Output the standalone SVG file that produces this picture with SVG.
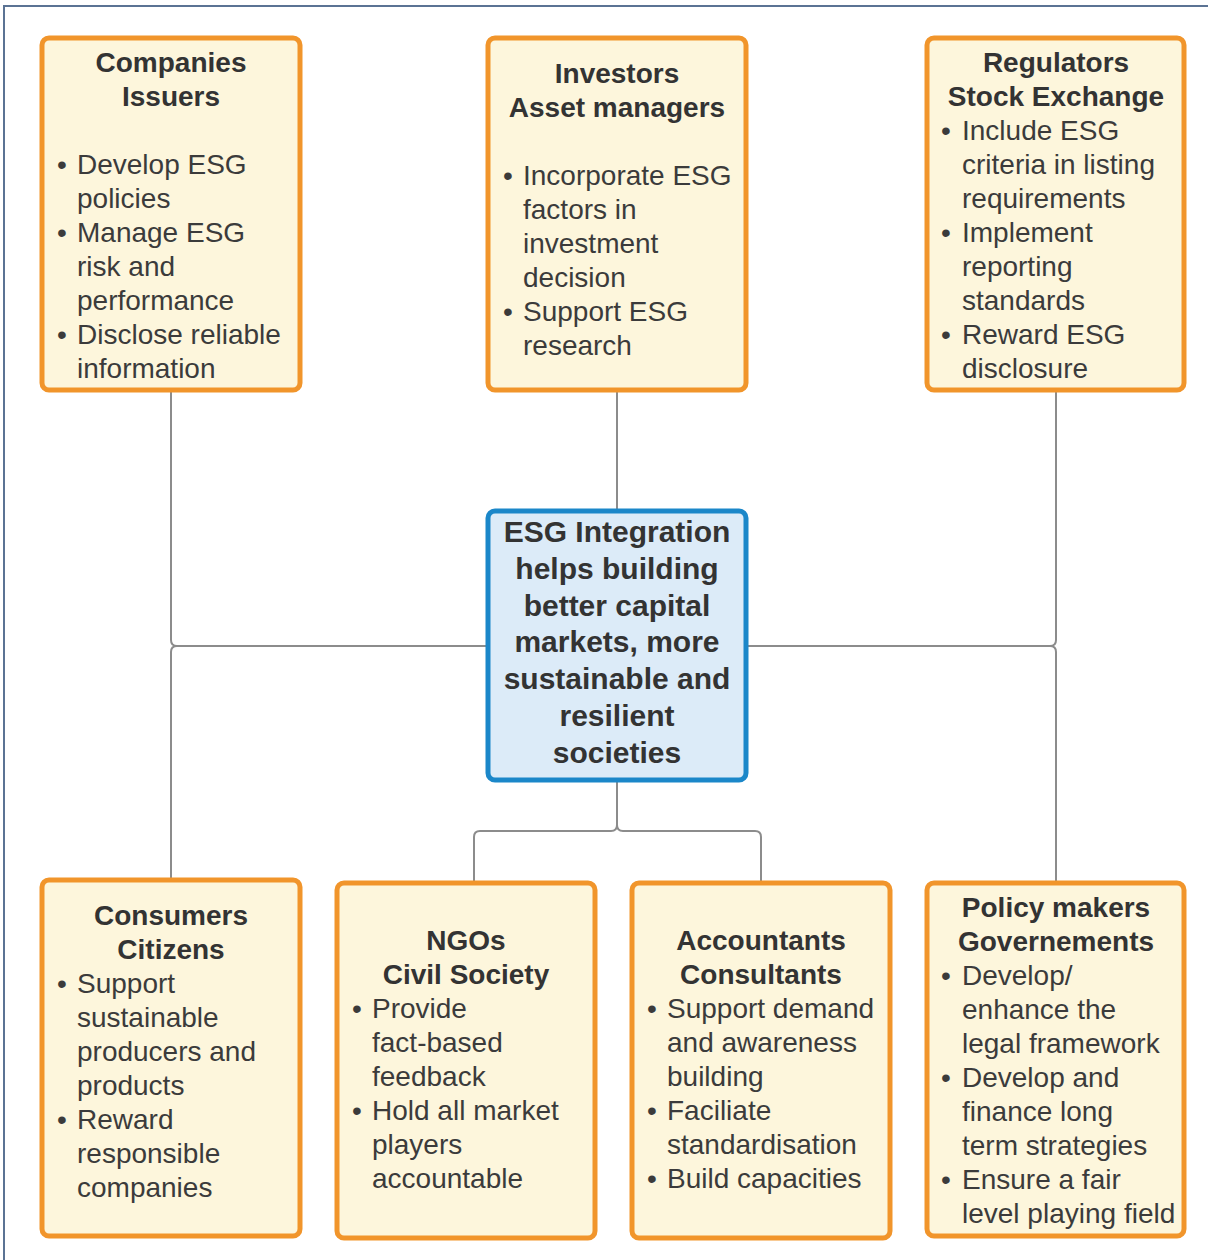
<svg xmlns="http://www.w3.org/2000/svg" width="1208" height="1260" viewBox="0 0 1208 1260">
<style>
.box{fill:#fdf6dc;stroke:#f1952b;stroke-width:5}
.core{fill:#dcebf8;stroke:#1b87c9;stroke-width:5}
.t{font-family:"Liberation Sans",Arial,sans-serif;font-size:28px;fill:#3b3b3b}
.h{font-family:"Liberation Sans",Arial,sans-serif;font-size:28px;font-weight:bold;fill:#333;text-anchor:middle}
.c{font-family:"Liberation Sans",Arial,sans-serif;font-size:30px;font-weight:bold;fill:#333;text-anchor:middle}
.ln{fill:none;stroke:#8c8c8c;stroke-width:2}
</style>
<rect x="0" y="0" width="1208" height="1260" fill="#ffffff"/>
<rect x="4" y="6" width="1260" height="1300" fill="none" stroke="#5b7394" stroke-width="2"/>
<g id="connectors">
<path class="ln" d="M171,390 V640 Q171,646 177,646 H488"/>
<path class="ln" d="M171,878 V652 Q171,646 177,646"/>
<path class="ln" d="M1056,390 V640 Q1056,646 1050,646 H746"/>
<path class="ln" d="M1056,882 V652 Q1056,646 1050,646"/>
<path class="ln" d="M617,390 V511"/>
<path class="ln" d="M617,780 V825 Q617,831 611,831 H480 Q474,831 474,837 V882"/>
<path class="ln" d="M617,825 Q617,831 623,831 H755 Q761,831 761,837 V882"/>
</g>
<g id="companies">
<rect class="box" x="42" y="38" width="258" height="352" rx="7"/>
<text class="h" x="171" y="72">Companies</text>
<text class="h" x="171" y="106">Issuers</text>
<text class="t" x="57" y="174">•</text><text class="t" x="77" y="174">Develop ESG</text>
<text class="t" x="77" y="208">policies</text>
<text class="t" x="57" y="242">•</text><text class="t" x="77" y="242">Manage ESG</text>
<text class="t" x="77" y="276">risk and</text>
<text class="t" x="77" y="310">performance</text>
<text class="t" x="57" y="344">•</text><text class="t" x="77" y="344">Disclose reliable</text>
<text class="t" x="77" y="378">information</text>
</g>
<g id="investors">
<rect class="box" x="488" y="38" width="258" height="352" rx="7"/>
<text class="h" x="617" y="83">Investors</text>
<text class="h" x="617" y="117">Asset managers</text>
<text class="t" x="503" y="185">•</text><text class="t" x="523" y="185">Incorporate ESG</text>
<text class="t" x="523" y="219">factors in</text>
<text class="t" x="523" y="253">investment</text>
<text class="t" x="523" y="287">decision</text>
<text class="t" x="503" y="321">•</text><text class="t" x="523" y="321">Support ESG</text>
<text class="t" x="523" y="355">research</text>
</g>
<g id="regulators">
<rect class="box" x="927" y="38" width="257" height="352" rx="7"/>
<text class="h" x="1056" y="72">Regulators</text>
<text class="h" x="1056" y="106">Stock Exchange</text>
<text class="t" x="941" y="140">•</text><text class="t" x="962" y="140">Include ESG</text>
<text class="t" x="962" y="174">criteria in listing</text>
<text class="t" x="962" y="208">requirements</text>
<text class="t" x="941" y="242">•</text><text class="t" x="962" y="242">Implement</text>
<text class="t" x="962" y="276">reporting</text>
<text class="t" x="962" y="310">standards</text>
<text class="t" x="941" y="344">•</text><text class="t" x="962" y="344">Reward ESG</text>
<text class="t" x="962" y="378">disclosure</text>
</g>
<g id="center">
<rect class="core" x="488" y="511" width="258" height="269" rx="7"/>
<text class="c" x="617" y="542">ESG Integration</text>
<text class="c" x="617" y="579">helps building</text>
<text class="c" x="617" y="616">better capital</text>
<text class="c" x="617" y="652">markets, more</text>
<text class="c" x="617" y="689">sustainable and</text>
<text class="c" x="617" y="726">resilient</text>
<text class="c" x="617" y="763">societies</text>
</g>
<g id="consumers">
<rect class="box" x="42" y="880" width="258" height="356" rx="7"/>
<text class="h" x="171" y="925">Consumers</text>
<text class="h" x="171" y="959">Citizens</text>
<text class="t" x="57" y="993">•</text><text class="t" x="77" y="993">Support</text>
<text class="t" x="77" y="1027">sustainable</text>
<text class="t" x="77" y="1061">producers and</text>
<text class="t" x="77" y="1095">products</text>
<text class="t" x="57" y="1129">•</text><text class="t" x="77" y="1129">Reward</text>
<text class="t" x="77" y="1163">responsible</text>
<text class="t" x="77" y="1197">companies</text>
</g>
<g id="ngos">
<rect class="box" x="337" y="883" width="258" height="355" rx="7"/>
<text class="h" x="466" y="950">NGOs</text>
<text class="h" x="466" y="984">Civil Society</text>
<text class="t" x="352" y="1018">•</text><text class="t" x="372" y="1018">Provide</text>
<text class="t" x="372" y="1052">fact-based</text>
<text class="t" x="372" y="1086">feedback</text>
<text class="t" x="352" y="1120">•</text><text class="t" x="372" y="1120">Hold all market</text>
<text class="t" x="372" y="1154">players</text>
<text class="t" x="372" y="1188">accountable</text>
</g>
<g id="accountants">
<rect class="box" x="632" y="883" width="258" height="355" rx="7"/>
<text class="h" x="761" y="950">Accountants</text>
<text class="h" x="761" y="984">Consultants</text>
<text class="t" x="647" y="1018">•</text><text class="t" x="667" y="1018">Support demand</text>
<text class="t" x="667" y="1052">and awareness</text>
<text class="t" x="667" y="1086">building</text>
<text class="t" x="647" y="1120">•</text><text class="t" x="667" y="1120">Faciliate</text>
<text class="t" x="667" y="1154">standardisation</text>
<text class="t" x="647" y="1188">•</text><text class="t" x="667" y="1188">Build capacities</text>
</g>
<g id="policy">
<rect class="box" x="927" y="883" width="257" height="353" rx="7"/>
<text class="h" x="1056" y="917">Policy makers</text>
<text class="h" x="1056" y="951">Governements</text>
<text class="t" x="941" y="985">•</text><text class="t" x="962" y="985">Develop/</text>
<text class="t" x="962" y="1019">enhance the</text>
<text class="t" x="962" y="1053">legal framework</text>
<text class="t" x="941" y="1087">•</text><text class="t" x="962" y="1087">Develop and</text>
<text class="t" x="962" y="1121">finance long</text>
<text class="t" x="962" y="1155">term strategies</text>
<text class="t" x="941" y="1189">•</text><text class="t" x="962" y="1189">Ensure a fair</text>
<text class="t" x="962" y="1223">level playing field</text>
</g>
</svg>
